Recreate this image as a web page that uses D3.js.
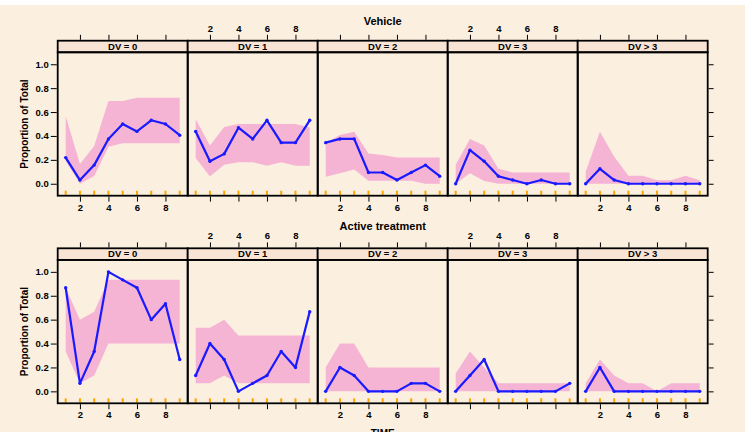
<!DOCTYPE html>
<html>
<head>
<meta charset="utf-8">
<script src="https://cdn.jsdelivr.net/npm/d3@7"></script>
<style>
  html, body { margin: 0; padding: 0; background: #ffffff; }
  svg text { font-family: "Liberation Sans", Arial, Helvetica, sans-serif; font-weight: bold; fill: #000; }
</style>
</head>
<body>
<svg id="chart" width="745" height="432"></svg>
<script>
// ---------------- data ----------------
const times = [1, 2, 3, 4, 5, 6, 7, 8, 9];
const xTicks = [2, 4, 6, 8];
const yTicks = [0, 0.2, 0.4, 0.6, 0.8, 1.0];
const yTickLabels = ["0.0", "0.2", "0.4", "0.6", "0.8", "1.0"];
const panelLabels = ["DV = 0", "DV = 1", "DV = 2", "DV = 3", "DV > 3"];
const groupTitles = ["Vehicle", "Active treatment"];

// Vehicle: observed proportion per DV panel
const vehicleObserved = [
  [0.219, 0.031, 0.156, 0.375, 0.500, 0.438, 0.531, 0.500, 0.406],
  [0.438, 0.188, 0.250, 0.469, 0.375, 0.531, 0.344, 0.344, 0.531],
  [0.344, 0.375, 0.375, 0.094, 0.094, 0.031, 0.094, 0.156, 0.063],
  [0.000, 0.281, 0.188, 0.063, 0.031, 0.000, 0.031, 0.000, 0.000],
  [0.000, 0.125, 0.031, 0.000, 0.000, 0.000, 0.000, 0.000, 0.000]
];
const vehicleLower = [
  [0.190, 0.000, 0.064, 0.310, 0.338, 0.338, 0.338, 0.338, 0.338],
  [0.215, 0.060, 0.160, 0.180, 0.180, 0.150, 0.180, 0.150, 0.150],
  [0.059, 0.087, 0.120, 0.025, 0.025, 0.025, 0.025, 0.000, 0.000],
  [0.000, 0.087, 0.022, 0.000, 0.000, 0.000, 0.000, 0.000, 0.000],
  [0.000, 0.000, 0.000, 0.000, 0.000, 0.000, 0.000, 0.000, 0.000]
];
const vehicleUpper = [
  [0.567, 0.165, 0.316, 0.693, 0.693, 0.720, 0.720, 0.720, 0.720],
  [0.540, 0.320, 0.475, 0.500, 0.500, 0.500, 0.500, 0.500, 0.470],
  [0.340, 0.408, 0.435, 0.254, 0.240, 0.220, 0.220, 0.220, 0.220],
  [0.160, 0.375, 0.320, 0.125, 0.095, 0.095, 0.095, 0.095, 0.095],
  [0.100, 0.436, 0.226, 0.067, 0.067, 0.030, 0.030, 0.067, 0.030]
];

// Active treatment
const activeObserved = [
  [0.867, 0.067, 0.333, 1.000, 0.933, 0.867, 0.600, 0.733, 0.267],
  [0.133, 0.400, 0.267, 0.000, 0.067, 0.133, 0.333, 0.200, 0.667],
  [0.000, 0.200, 0.133, 0.000, 0.000, 0.000, 0.067, 0.067, 0.000],
  [0.000, 0.133, 0.267, 0.000, 0.000, 0.000, 0.000, 0.000, 0.067],
  [0.000, 0.200, 0.000, 0.000, 0.000, 0.000, 0.000, 0.000, 0.000]
];
const activeLower = [
  [0.333, 0.067, 0.133, 0.400, 0.400, 0.400, 0.400, 0.400, 0.400],
  [0.067, 0.067, 0.133, 0.067, 0.067, 0.067, 0.067, 0.067, 0.067],
  [0.000, 0.000, 0.000, 0.000, 0.000, 0.000, 0.000, 0.000, 0.000],
  [0.000, 0.000, 0.000, 0.000, 0.000, 0.000, 0.000, 0.000, 0.000],
  [0.000, 0.000, 0.000, 0.000, 0.000, 0.000, 0.000, 0.000, 0.000]
];
const activeUpper = [
  [0.867, 0.600, 0.667, 0.933, 0.933, 0.933, 0.933, 0.933, 0.933],
  [0.533, 0.533, 0.600, 0.467, 0.467, 0.467, 0.467, 0.467, 0.467],
  [0.200, 0.400, 0.400, 0.200, 0.200, 0.200, 0.200, 0.200, 0.200],
  [0.150, 0.333, 0.200, 0.067, 0.067, 0.067, 0.067, 0.067, 0.067],
  [0.067, 0.267, 0.133, 0.067, 0.067, 0.000, 0.067, 0.067, 0.067]
];

const groups = [
  { title: groupTitles[0], obs: vehicleObserved, lo: vehicleLower, hi: vehicleUpper },
  { title: groupTitles[1], obs: activeObserved, lo: activeLower, hi: activeUpper }
];

// ---------------- layout ----------------
const W = 745, H = 432;
const bg = "#fbefe0", stripFill = "#f8e4d5", bandFill = "#f6b4d5", lineCol = "#1a1aff", rugCol = "#ffa500";
const left = 57.7, panelW = 130, stripH = 11.6, panelH = 143.4;
const groupTops = [40.7, 248.3];
const titleY = [21.7, 227.3];

const svg = d3.select("#chart");
svg.append("rect").attr("x", 0).attr("y", 0).attr("width", W).attr("height", H).attr("fill", "#ffffff");
svg.append("rect").attr("x", 0).attr("y", 5).attr("width", W).attr("height", H - 5).attr("fill", bg);

groups.forEach((g, gi) => {
  const sTop = groupTops[gi];
  const pTop = sTop + stripH;
  const pBot = pTop + panelH;
  const y = d3.scaleLinear().domain([-0.1, 1.1]).range([pBot, pTop]);

  // group title
  svg.append("text")
    .attr("x", left + panelW * 2.5).attr("y", titleY[gi])
    .attr("text-anchor", "middle").attr("dominant-baseline", "middle")
    .style("font-size", "11px").text(g.title);

  // y label
  svg.append("text")
    .attr("transform", `translate(25,${(pTop + pBot) / 2}) rotate(-90)`)
    .attr("text-anchor", "middle").attr("dominant-baseline", "middle")
    .style("font-size", "10px").text("Proportion of Total");

  panelLabels.forEach((lab, i) => {
    const x0 = left + i * panelW;
    const x = d3.scaleLinear().domain([0.44, 9.56]).range([x0, x0 + panelW]);
    const pts = times.map((t, k) => ({ t, v: g.obs[i][k], lo: g.lo[i][k], hi: g.hi[i][k] }));
    const pg = svg.append("g");

    // band
    pg.append("path").datum(pts)
      .attr("fill", bandFill)
      .attr("d", d3.area().x(d => x(d.t)).y0(d => y(d.lo)).y1(d => y(d.hi)));

    // observed line
    pg.append("path").datum(pts)
      .attr("fill", "none").attr("stroke", lineCol).attr("stroke-width", 2.2)
      .attr("stroke-linejoin", "round")
      .attr("d", d3.line().x(d => x(d.t)).y(d => y(d.v)));
    pg.selectAll("circle").data(pts).join("circle")
      .attr("cx", d => x(d.t)).attr("cy", d => y(d.v)).attr("r", 1.7).attr("fill", lineCol);

    // rug
    pg.selectAll("line.rug").data(times).join("line").attr("class", "rug")
      .attr("x1", d => x(d)).attr("x2", d => x(d))
      .attr("y1", pBot - 5).attr("y2", pBot - 0.8)
      .attr("stroke", rugCol).attr("stroke-width", 2);

    // strip
    pg.append("rect").attr("x", x0).attr("y", sTop).attr("width", panelW).attr("height", stripH)
      .attr("fill", stripFill).attr("stroke", "#000").attr("stroke-width", 1.8);
    pg.append("text").attr("x", x0 + panelW / 2).attr("y", sTop + stripH / 2 + 0.5)
      .attr("text-anchor", "middle").attr("dominant-baseline", "middle")
      .style("font-size", "9.5px").text(lab);

    // panel border
    pg.append("rect").attr("x", x0).attr("y", pTop).attr("width", panelW).attr("height", panelH)
      .attr("fill", "none").attr("stroke", "#000").attr("stroke-width", 1.8);

    // x axes (alternating labels)
    const topAx = d3.axisTop(x).tickValues(xTicks).tickSize(5).tickPadding(3)
      .tickFormat(i % 2 === 1 ? d3.format("d") : () => "");
    const ta = pg.append("g").attr("transform", `translate(0,${sTop - 0.9})`).call(topAx);
    const botAx = d3.axisBottom(x).tickValues(xTicks).tickSize(5).tickPadding(2.5)
      .tickFormat(i % 2 === 0 ? d3.format("d") : () => "");
    const ba = pg.append("g").attr("transform", `translate(0,${pBot + 0.9})`).call(botAx);
    [ta, ba].forEach(a => {
      a.select(".domain").remove();
      a.selectAll("line").attr("stroke", "#000").attr("stroke-width", 1);
      a.selectAll("text").style("font-size", "9.5px").style("font-family", null).attr("fill", "#000");
    });
  });

  // y axes
  const la = svg.append("g").attr("transform", `translate(${left - 0.9},0)`)
    .call(d3.axisLeft(y).tickValues(yTicks).tickSize(6).tickPadding(2)
      .tickFormat((d, k) => yTickLabels[k]));
  const ra = svg.append("g").attr("transform", `translate(${left + 5 * panelW + 0.9},0)`)
    .call(d3.axisRight(y).tickValues(yTicks).tickSize(5).tickFormat(() => ""));
  [la, ra].forEach(a => {
    a.select(".domain").remove();
    a.selectAll("line").attr("stroke", "#000").attr("stroke-width", 1);
    a.selectAll("text").style("font-size", "9.5px").attr("fill", "#000");
  });
});

// x label
svg.append("text")
  .attr("x", left + panelW * 2.5).attr("y", 434)
  .attr("text-anchor", "middle").attr("dominant-baseline", "middle")
  .style("font-size", "10px").text("TIME");
</script>
</body>
</html>
